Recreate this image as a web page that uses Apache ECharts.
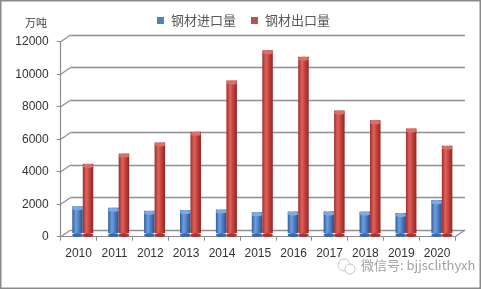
<!DOCTYPE html>
<html><head><meta charset="utf-8">
<script src="https://cdn.jsdelivr.net/npm/echarts@6/dist/echarts.min.js"></script>
<style>html,body{margin:0;padding:0;background:#fff}#c{width:481px;height:289px}</style>
</head><body><div id="c"></div>
<script>
const years = ['2010','2011','2012','2013','2014','2015','2016','2017','2018','2019','2020'];
const importVals = [1643,1558,1366,1408,1443,1278,1321,1330,1317,1230,2023];
const exportVals = [4256,4888,5573,6234,9378,11240,10849,7543,6934,6429,5367];
const yTicks = [0,2000,4000,6000,8000,10000,12000];
const seriesNames = ['钢材进口量','钢材出口量'];
const unitLabel = '万吨';

const chart = echarts.init(document.getElementById('c'), null, {renderer:'canvas'});
const blueGrad = new echarts.graphic.LinearGradient(0,0,1,0,[
  {offset:0,color:'#2f5e9e'},{offset:0.35,color:'#6d9fe0'},{offset:0.6,color:'#4f82c6'},{offset:1,color:'#26508c'}]);
const redGrad = new echarts.graphic.LinearGradient(0,0,1,0,[
  {offset:0,color:'#9c2e2b'},{offset:0.35,color:'#e0625e'},{offset:0.6,color:'#c8453f'},{offset:1,color:'#8e2624'}]);
const axisText = {fontFamily:'Liberation Sans, Arial, sans-serif', fontSize:12, color:'#333'};
const lineCol = '#8c8c8c';

const option = {
  backgroundColor:'#fff',
  animation:false,
  legend:{
    data:seriesNames.map((n,i)=>({name:n, icon:'rect', itemStyle:{color:i?'#c0504d':'#4f81bd'}})),
    left:152, top:9, itemWidth:7, itemHeight:7, itemGap:15,
    textStyle:{fontFamily:'Noto Sans CJK SC', fontSize:13, color:'#595959', padding:[0,0,0,2]}
  },
  grid:[
    {left:60.7, right:26, top:41.7, bottom:52.3},
    {left:70.7, right:16, top:35, bottom:59},
    {left:64.8, right:21.2, top:38, bottom:56}
  ],
  xAxis:[
    {gridIndex:0, type:'category', data:years, boundaryGap:true,
     axisLine:{show:true, lineStyle:{color:lineCol, width:1.2}},
     axisTick:{show:true, length:4, lineStyle:{color:lineCol}},
     axisLabel:{...axisText, margin:11, interval:0}},
    {gridIndex:1, type:'category', data:years, show:false},
    {gridIndex:2, type:'category', data:years, show:false}
  ],
  yAxis:[
    {gridIndex:0, type:'value', min:0, max:12000, interval:2000,
     axisLine:{show:true, lineStyle:{color:lineCol, width:1.2}},
     axisTick:{show:true, length:4, lineStyle:{color:lineCol}},
     axisLabel:{...axisText, margin:12, formatter:v=>String(v)},
     splitLine:{show:false}},
    {gridIndex:1, type:'value', min:0, max:12000, interval:2000,
     axisLine:{show:false}, axisTick:{show:false}, axisLabel:{show:false},
     splitLine:{show:true, lineStyle:{color:'#8f8f8f', width:1.3}}},
    {gridIndex:2, type:'value', min:0, max:12000, show:false, splitLine:{show:false}}
  ],
  series:[
    {type:'custom', xAxisIndex:0, yAxisIndex:0, silent:true, clip:false, z:1,
     data:yTicks.map(v=>[0,v]),
     renderItem:function(params, api){
       const p = api.coord([api.value(0), api.value(1)]);
       const w = api.size([1,0])[0]/2;
       const x0 = p[0]-w;
       return {type:'line', shape:{x1:x0, y1:p[1], x2:x0+10, y2:p[1]-6.7},
               style:{stroke:'#8f8f8f', lineWidth:1.2}};
     }},
    {type:'custom', xAxisIndex:0, yAxisIndex:0, silent:true, clip:false, z:1,
     data:[[years.length-1,0]],
     renderItem:function(params, api){
       const p = api.coord([api.value(0), api.value(1)]);
       const w = api.size([1,0])[0]/2;
       const x0 = p[0]+w;
       return {type:'line', shape:{x1:x0, y1:p[1], x2:x0+10, y2:p[1]-6.7},
               style:{stroke:'#8f8f8f', lineWidth:1.2}};
     }},
    {name:seriesNames[0], type:'bar', xAxisIndex:2, yAxisIndex:2, data:importVals,
     barWidth:10.5, barGap:'0%', z:3, itemStyle:{color:blueGrad}},
    {name:seriesNames[1], type:'bar', xAxisIndex:2, yAxisIndex:2, data:exportVals,
     barWidth:10.5, barGap:'0%', z:3, itemStyle:{color:redGrad}},
    {type:'pictorialBar', xAxisIndex:2, yAxisIndex:2, data:importVals, symbol:'circle',
     symbolSize:[10.5,4], symbolPosition:'end', symbolOffset:[-5.25,0], z:4, silent:true,
     itemStyle:{color:'#7fa9df'}},
    {type:'pictorialBar', xAxisIndex:2, yAxisIndex:2, data:exportVals, symbol:'circle',
     symbolSize:[10.5,4], symbolPosition:'end', symbolOffset:[5.25,0], z:4, silent:true,
     itemStyle:{color:'#d9706c'}},
    {type:'pictorialBar', xAxisIndex:2, yAxisIndex:2, data:importVals.map(()=>0), symbol:'circle',
     symbolSize:[10.5,4], symbolPosition:'end', symbolOffset:[-5.25,0], z:2, silent:true,
     itemStyle:{color:'#3b6aab'}},
    {type:'pictorialBar', xAxisIndex:2, yAxisIndex:2, data:exportVals.map(()=>0), symbol:'circle',
     symbolSize:[10.5,4], symbolPosition:'end', symbolOffset:[5.25,0], z:2, silent:true,
     itemStyle:{color:'#a93532'}}
  ],
  graphic:[
    {type:'rect', shape:{x:0.75, y:0.75, width:479.5, height:287.5}, silent:true,
     style:{fill:'none', stroke:'#8a8a8a', lineWidth:1.5}},
    {type:'text', left:25, top:17, silent:true,
     style:{text:unitLabel, font:'11px "Noto Sans CJK SC"', fill:'#404040'}},
    {type:'circle', shape:{cx:344, cy:265, r:6}, silent:true,
     style:{fill:'none', stroke:'#c8c8c8', lineWidth:1}},
    {type:'circle', shape:{cx:350, cy:269, r:5}, silent:true,
     style:{fill:'#fff', stroke:'#c8c8c8', lineWidth:1}},
    {type:'text', left:361, top:259, silent:true,
     style:{text:'微信号: bjjsclithyxh', font:'13px "Noto Sans CJK SC"', fill:'#a0a0a0'}}
  ]
};
chart.setOption(option);
</script></body></html>
